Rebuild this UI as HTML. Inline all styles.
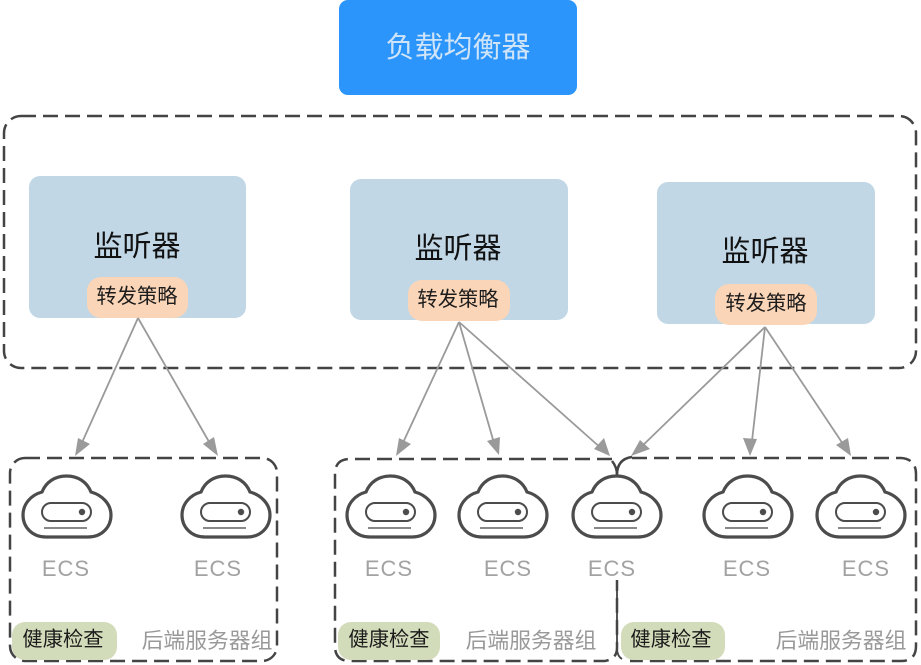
<!DOCTYPE html>
<html><head><meta charset="utf-8"><style>
html,body{margin:0;padding:0;background:#fff}
svg{display:block}
text{font-family:"Liberation Sans","Noto Sans CJK SC",sans-serif}
.e{font-size:22px;letter-spacing:1px;fill:#a2a2a2;text-anchor:middle}
.b{font-size:20.3px;fill:#1c1c1c;text-anchor:middle}
.l{font-size:29px;fill:#111;text-anchor:middle}
.g{font-size:21.8px;fill:#999;text-anchor:middle}
.d{fill:none;stroke:#444;stroke-width:2.5;stroke-dasharray:15 7}
.a{stroke:#9a9a9a;stroke-width:1.8;fill:none}
.h{fill:#9a9a9a}
</style></head><body>
<svg width="921" height="665" viewBox="0 0 921 665" xmlns="http://www.w3.org/2000/svg">
<defs>
<g id="c" fill="none" stroke="#4c4c4c">
<path stroke-width="3.2" d="M24 62C10 62 1 52 1 40C1 29 9 20 20 17C24 7 33 1 44.5 1C56 1 65 7 69 17C80 20 89 29 89 40C89 52 80 62 66 62Z"/>
<rect x="20" y="28" width="49" height="18" rx="9" stroke-width="2"/>
<circle cx="60" cy="37" r="3.2" fill="#4c4c4c" stroke="none"/>
<path d="M22 53H65" stroke-width="1.8" stroke="#777"/>
</g>
</defs>

<rect x="339" y="0" width="238" height="95" rx="9" fill="#2b95fb"/>
<text x="458" y="57" font-size="29" fill="#cfe4f8" text-anchor="middle">负载均衡器</text>

<rect class="d" x="4" y="116" width="912" height="252" rx="17"/>

<rect x="29" y="176" width="217" height="142" rx="11" fill="#c1d7e6"/>
<rect x="350" y="179" width="218" height="141" rx="11" fill="#c1d7e6"/>
<rect x="657" y="182" width="218" height="142" rx="11" fill="#c1d7e6"/>
<text class="l" x="137" y="256">监听器</text>
<text class="l" x="458" y="258">监听器</text>
<text class="l" x="765" y="261">监听器</text>

<rect x="87" y="277" width="101" height="41" rx="14" fill="#fbd5b7"/>
<rect x="408" y="280" width="102" height="41" rx="14" fill="#fbd5b7"/>
<rect x="715" y="284" width="102" height="41" rx="14" fill="#fbd5b7"/>
<text class="b" x="137" y="303">转发策略</text>
<text class="b" x="458" y="306">转发策略</text>
<text class="b" x="766" y="310">转发策略</text>

<path class="a" d="M138 318L80 447M138 318L212 447M459 322L401 447M459 322L494 443M459 322L602 449M765 327L639 449M765 327L752 441M765 327L845 447"/>
<path class="h" d="M75 456L78 438L90 444Z"/>
<path class="h" d="M218 456L203 444L214 437Z"/>
<path class="h" d="M396 456L399 438L411 444Z"/>
<path class="h" d="M499 455L487 441L500 437Z"/>
<path class="h" d="M610 456L594 449L604 438Z"/>
<path class="h" d="M631 456L640 440L650 449Z"/>
<path class="h" d="M750 456L743 438L757 439Z"/>
<path class="h" d="M851 456L836 445L848 438Z"/>

<rect class="d" x="10" y="458" width="267" height="203" rx="15"/>
<path class="d" d="M612 459H350Q335 459 335 474V646Q335 661 350 661H605Q617 659 617 648V580"/>
<path d="M612 461Q617 467 617 475" fill="none" stroke="#444" stroke-width="2.5"/>
<path d="M617 475Q617 459 632 457" fill="none" stroke="#444" stroke-width="2.5"/>
<path class="d" d="M632 458H901Q916 459 916 474V646Q916 661 901 661H630"/>
<path d="M617 580V648Q617 656 622 659" fill="none" stroke="#444" stroke-width="1.8"/>

<use href="#c" x="22" y="475"/>
<use href="#c" x="181" y="475"/>
<use href="#c" x="346" y="475"/>
<use href="#c" x="458" y="475"/>
<use href="#c" x="572" y="475"/>
<use href="#c" x="703" y="475"/>
<use href="#c" x="816" y="475"/>

<text class="e" x="66" y="576">ECS</text>
<text class="e" x="218" y="576">ECS</text>
<text class="e" x="389" y="576">ECS</text>
<text class="e" x="508" y="576">ECS</text>
<text class="e" x="612" y="576">ECS</text>
<text class="e" x="747" y="576">ECS</text>
<text class="e" x="866" y="576">ECS</text>

<rect x="12" y="622" width="105" height="38" rx="13" fill="#d3dcba"/>
<rect x="338" y="622" width="102" height="38" rx="13" fill="#d3dcba"/>
<rect x="621" y="622" width="104" height="38" rx="13" fill="#d3dcba"/>
<text class="b" x="63" y="646">健康检查</text>
<text class="b" x="389" y="646">健康检查</text>
<text class="b" x="671" y="646">健康检查</text>

<text class="g" x="207" y="648">后端服务器组</text>
<text class="g" x="531" y="648">后端服务器组</text>
<text class="g" x="841" y="648">后端服务器组</text>
</svg>
</body></html>
